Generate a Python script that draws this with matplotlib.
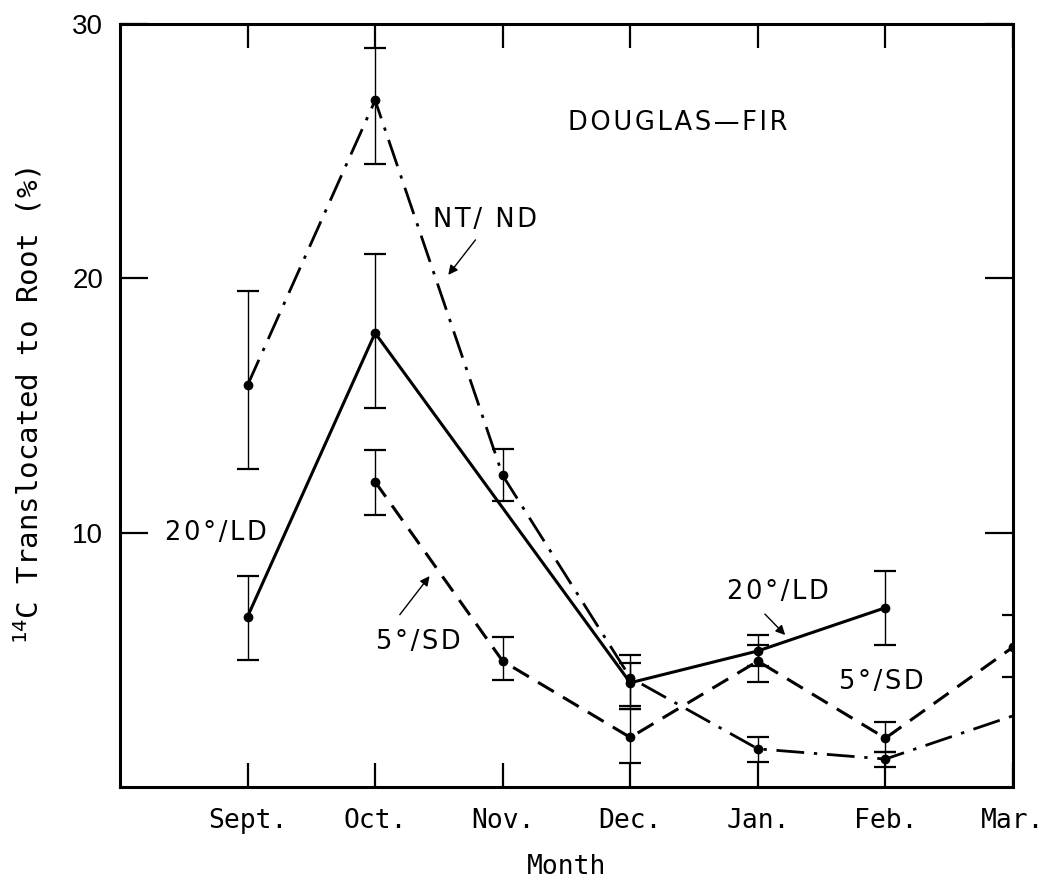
import numpy as np
import matplotlib
matplotlib.use("Agg")
import matplotlib.pyplot as plt

# data
months = ["Sept.", "Oct.", "Nov.", "Dec.", "Jan.", "Feb.", "Mar."]

# NT/ND (dash-dot)
x_nt = [0, 1, 2, 3, 4, 5, 6]
nt_vals = [15.8, 27.0, 12.25, 4.3, 1.5, 1.1, 2.8]
nt_low = [12.5, 24.5, 11.25, 3.2, 0.97, 0.8, np.nan]
nt_high = [19.5, 29.05, 13.3, 5.2, 1.97, 1.38, np.nan]

# 20 deg / LD (solid)
x_ld = [0, 1, 3, 4, 5]
ld_vals = [6.7, 17.85, 4.1, 5.35, 7.05]
ld_low = [5.0, 14.9, 3.07, 4.75, 5.58]
ld_high = [8.3, 20.95, 4.88, 5.98, 8.48]

# 5 deg / SD (dashed)
x_sd = [1, 2, 3, 4, 5, 6]
sd_vals = [12.0, 4.95, 1.95, 4.95, 1.92, 5.5]
sd_low = [10.7, 4.2, 0.95, 4.13, 1.38, 4.33]
sd_high = [13.25, 5.9, 3.07, 5.6, 2.55, 6.75]

mono = "DejaVu Sans Mono"
plt.rcParams["mathtext.fontset"] = "custom"
plt.rcParams["mathtext.rm"] = mono

fig = plt.figure(figsize=(10.47, 8.90), dpi=100)
ax = fig.add_axes([0.1146, 0.1157, 0.8529, 0.8573])


def err(vals, low, high):
    v = np.array(vals)
    return [v - np.array(low), np.array(high) - v]


# error bars first (thin)
ax.errorbar(x_nt, nt_vals, yerr=err(nt_vals, nt_low, nt_high), fmt="none",
            ecolor="black", elinewidth=1.0, capsize=8, capthick=1.6)
ax.errorbar(x_ld, ld_vals, yerr=err(ld_vals, ld_low, ld_high), fmt="none",
            ecolor="black", elinewidth=1.0, capsize=8, capthick=1.6)
ax.errorbar(x_sd, sd_vals, yerr=err(sd_vals, sd_low, sd_high), fmt="none",
            ecolor="black", elinewidth=1.0, capsize=8, capthick=1.6)

# lines
ax.plot(x_nt, nt_vals, color="black", lw=2.0, dashes=(10, 3.5, 1.2, 3.5),
        marker="o", ms=6, markevery=[0, 1, 2, 3, 4, 5])
ax.plot(x_ld, ld_vals, color="black", lw=2.2, ls="-", marker="o", ms=6)
ax.plot(x_sd, sd_vals, color="black", lw=2.2, dashes=(6, 3.5), marker="o", ms=6)

ax.set_xlim(-1, 6)
ax.set_ylim(0, 30)
ax.set_xticks(range(len(months)))
ax.set_xticklabels(months, fontfamily=mono, fontsize=19)
ax.set_yticks([10, 20, 30])
ax.set_yticklabels(["10", "20", "30"], fontfamily="Liberation Sans", fontsize=20)
ax.tick_params(axis="x", direction="in", length=17, width=1.6, top=True, pad=15)
ax.tick_params(axis="y", direction="in", length=20, width=1.6, right=True, pad=12)
for s in ax.spines.values():
    s.set_linewidth(2.2)

ax.set_ylabel(r"$^{14}$C Translocated to Root (%)", fontfamily=mono,
              fontsize=21)
ax.yaxis.set_label_coords(-0.085, 0.5)
ax.set_xlabel("Month", fontfamily=mono, fontsize=19)
ax.xaxis.set_label_coords(0.50, -0.088)

# annotations (letter-spaced like the typed originals)
hs = "\u200a"


def spaced(s):
    return hs.join(s)


lab = dict(fontfamily="DejaVu Sans", fontsize=18.5, ha="center", va="center")
ax.text(3.37, 26.1, spaced("DOUGLAS\u2014FIR"), **lab)
ax.text(1.86, 22.3, spaced("NT/ ND"), **lab)
ax.text(-0.25, 10.0, spaced("20\u00b0/LD"), **lab)
ax.text(1.34, 5.7, spaced("5\u00b0/SD"), **lab)
ax.text(4.16, 7.67, spaced("20\u00b0/LD"), **lab)
ax.text(4.97, 4.13, spaced("5\u00b0/SD"), **lab)

arrow = dict(arrowstyle="-|>", color="black", lw=1.0, mutation_scale=14)
ax.annotate("", xy=(1.56, 20.05), xytext=(1.80, 21.6), arrowprops=arrow)
ax.annotate("", xy=(1.44, 8.38), xytext=(1.18, 6.69), arrowprops=arrow)
ax.annotate("", xy=(4.23, 5.9), xytext=(4.04, 6.88), arrowprops=arrow)

fig.savefig("out.png", dpi=100)
